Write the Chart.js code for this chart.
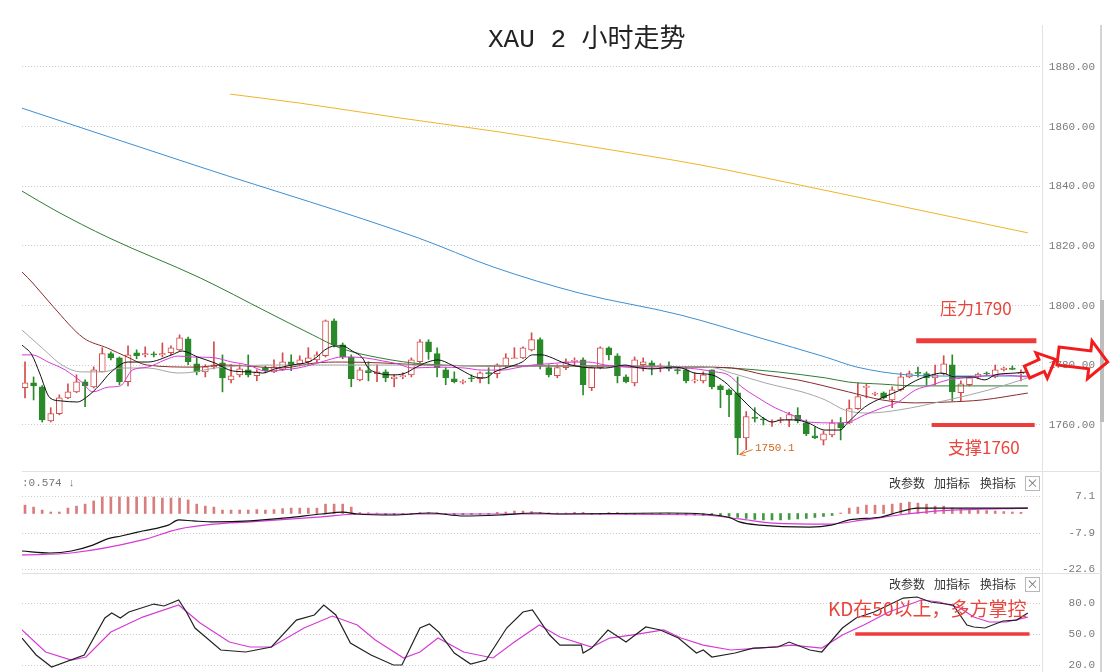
<!DOCTYPE html>
<html>
<head>
<meta charset="utf-8">
<title>XAU 2 小时走势</title>
<script src="https://cdn.jsdelivr.net/npm/chart.js@4.4.0/dist/chart.umd.min.js"></script>
<style>
  body { margin: 0; background: #fff; }
  #wrap { position: relative; width: 1120px; height: 672px; overflow: hidden; background: #fff; font-family: "Noto Sans CJK SC", sans-serif; }
  canvas { position: absolute; left: 0; z-index: 1; }
  .sep { position: absolute; background: #e2e2e2; z-index: 0; }
  .txt { position: absolute; white-space: nowrap; z-index: 2; }
  .hd { font-size: 12px; line-height: 16px; color: #333; }
  .xb { width: 13px; height: 13px; border: 1px solid #b8b8b8; font-size: 12px; line-height: 12px; text-align: center; color: #777; }
  .red { color: #e8453c; }
</style>
</head>
<body>
<div id="wrap">
  <div class="sep" style="left:1042px;top:25px;width:1px;height:647px"></div>
  <div class="sep" style="left:1100px;top:25px;width:2px;height:647px;background:#d4d4d4"></div>
  <div class="sep" style="left:1100px;top:300px;width:4px;height:122px;background:#bdbdbd"></div>
  <div class="sep" style="left:22px;top:471px;width:1080px;height:1px"></div>
  <div class="sep" style="left:22px;top:573px;width:1080px;height:1px"></div>

  <canvas id="main" width="1120" height="471" style="top:0"></canvas>
  <canvas id="macd" width="1120" height="102" style="top:471px"></canvas>
  <canvas id="kd" width="1120" height="99" style="top:573px"></canvas>

  <div class="txt" style="left:488px;top:25px;font-size:26px;line-height:30px;color:#222;font-family:'Liberation Mono','Noto Sans CJK SC',monospace">XAU 2 小时走势</div>
  <div class="txt red" style="left:940px;top:298px;font-size:17px;line-height:20px">压力1790</div>
  <div class="txt red" style="left:948px;top:437px;font-size:17px;line-height:20px">支撑1760</div>
  <div class="txt" style="left:755px;top:441px;font-size:11px;line-height:14px;color:#d2691e;font-family:'Liberation Mono',monospace">1750.1</div>
  <div class="txt red" style="left:828px;top:597px;font-size:19px;line-height:22px">KD在50以上，多方掌控</div>

  <div class="txt" style="left:22px;top:476px;font-size:11px;line-height:14px;color:#777;font-family:'Liberation Mono',monospace">:0.574 ↓</div>
  <div class="txt hd" style="left:889px;top:475px">改参数</div>
  <div class="txt hd" style="left:934px;top:475px">加指标</div>
  <div class="txt hd" style="left:980px;top:475px">换指标</div>
  <div class="txt xb" style="left:1025px;top:476px">×</div>
  <div class="txt hd" style="left:889px;top:576px">改参数</div>
  <div class="txt hd" style="left:934px;top:576px">加指标</div>
  <div class="txt hd" style="left:980px;top:576px">换指标</div>
  <div class="txt xb" style="left:1025px;top:577px">×</div>
</div>
<script>
// ---- candles (2h bars, left to right) ----
const openP = [
  1772.5, 1774.1, 1772.8, 1761.4, 1763.8, 1769.1, 1771.1, 1774.5, 1772.8, 1777.8,
  1783.9, 1782.5, 1774.5, 1784.2, 1783.5, 1783.8, 1783.5, 1784.2, 1785.2, 1788.9,
  1780.5, 1777.8, 1779.5, 1780.8, 1775.1, 1776.8, 1778.5, 1776.5, 1779.2, 1777.8,
  1778.5, 1781.2, 1780.5, 1781.2, 1781.8, 1783.2, 1794.9, 1786.9, 1782.8, 1775.1,
  1778.2, 1777.2, 1777.8, 1775.5, 1776.2, 1776.8, 1781.2, 1787.9, 1783.9, 1778.5,
  1775.5, 1774.3, 1775.8, 1775.5, 1777.5, 1777.2, 1779.8, 1782.2, 1782.5, 1785.2,
  1788.6, 1779.2, 1776.5, 1779.2, 1781.3, 1781.8, 1772.5, 1779.2, 1785.9, 1783.2,
  1776.1, 1774.1, 1780.2, 1780.8, 1779.6, 1779.8, 1778.5, 1778.5, 1774.8, 1774.8,
  1778.5, 1773.1, 1771.8, 1770.8, 1755.7, 1762.5, 1762.0, 1761.0, 1761.5, 1761.7,
  1763.2, 1760.7, 1756.4, 1754.9, 1756.7, 1760.7, 1760.7, 1765.5, 1772.6, 1770.3,
  1770.8, 1768.4, 1771.8, 1776.1, 1777.6, 1777.2, 1775.8, 1777.2, 1780.2, 1770.8,
  1773.5, 1776.1, 1777.4, 1776.1, 1778.5, 1779.1, 1777.2
];
const highP = [
  1781.2, 1776.1, 1773.2, 1765.8, 1770.1, 1773.8, 1776.8, 1775.1, 1779.5, 1785.9,
  1784.5, 1782.8, 1786.5, 1785.2, 1786.2, 1784.5, 1787.5, 1786.5, 1790.2, 1789.5,
  1782.8, 1780.2, 1787.9, 1783.5, 1780.2, 1780.2, 1783.5, 1778.5, 1779.8, 1781.8,
  1784.2, 1783.5, 1783.2, 1785.9, 1784.5, 1795.2, 1795.6, 1787.5, 1783.5, 1779.2,
  1781.2, 1780.2, 1778.5, 1776.8, 1777.5, 1782.5, 1788.6, 1788.6, 1785.9, 1779.2,
  1777.8, 1775.1, 1776.8, 1777.8, 1779.2, 1780.5, 1783.9, 1785.9, 1786.2, 1790.9,
  1789.2, 1780.2, 1780.2, 1782.2, 1782.5, 1782.5, 1779.5, 1786.2, 1786.2, 1783.9,
  1776.8, 1782.8, 1782.5, 1781.5, 1780.5, 1781.2, 1779.2, 1779.5, 1777.5, 1777.8,
  1778.5, 1773.5, 1772.1, 1776.1, 1764.5, 1765.8, 1762.5, 1761.7, 1762.5, 1764.2,
  1765.8, 1761.7, 1759.4, 1758.0, 1761.7, 1762.5, 1768.4, 1774.1, 1773.6, 1771.0,
  1771.1, 1772.8, 1777.5, 1778.1, 1779.4, 1777.8, 1780.1, 1783.2, 1783.5, 1774.8,
  1776.1, 1777.4, 1777.8, 1780.1, 1779.4, 1779.8, 1778.5
];
const lowP = [
  1769.1, 1768.4, 1761.0, 1761.0, 1763.4, 1768.8, 1770.8, 1766.1, 1772.4, 1777.8,
  1781.8, 1773.5, 1773.1, 1782.2, 1782.8, 1782.8, 1782.8, 1783.5, 1784.8, 1780.2,
  1776.8, 1776.1, 1778.8, 1771.1, 1774.1, 1776.1, 1776.1, 1774.8, 1777.5, 1777.5,
  1778.2, 1778.2, 1779.8, 1780.2, 1781.2, 1782.8, 1786.2, 1782.2, 1772.8, 1774.8,
  1774.8, 1774.5, 1774.5, 1772.8, 1775.5, 1776.1, 1780.8, 1782.0, 1776.1, 1773.5,
  1774.1, 1773.8, 1774.5, 1774.1, 1773.8, 1775.8, 1779.2, 1782.2, 1782.2, 1784.8,
  1778.8, 1776.1, 1775.8, 1778.5, 1780.2, 1770.1, 1771.5, 1778.8, 1781.8, 1774.1,
  1774.1, 1773.1, 1778.1, 1776.8, 1777.8, 1778.1, 1777.1, 1774.1, 1774.1, 1774.1,
  1772.1, 1765.8, 1762.8, 1750.1, 1751.7, 1761.0, 1760.0, 1759.5, 1760.7, 1759.4,
  1760.7, 1756.4, 1755.4, 1753.3, 1756.0, 1755.0, 1760.4, 1765.2, 1769.1, 1769.8,
  1768.8, 1765.8, 1771.4, 1775.8, 1776.1, 1773.4, 1773.4, 1776.8, 1768.1, 1768.1,
  1773.1, 1775.4, 1776.8, 1775.8, 1778.1, 1778.5, 1774.8
];
const closeP = [
  1774.1, 1773.1, 1761.7, 1763.8, 1769.1, 1771.1, 1774.5, 1773.1, 1778.5, 1783.9,
  1782.5, 1774.5, 1783.5, 1783.2, 1783.9, 1783.5, 1783.9, 1785.9, 1789.2, 1781.2,
  1777.8, 1779.5, 1780.2, 1775.8, 1776.5, 1778.8, 1776.8, 1777.8, 1778.2, 1779.5,
  1781.2, 1780.2, 1781.8, 1782.5, 1783.5, 1794.9, 1786.9, 1782.8, 1775.5, 1778.5,
  1777.5, 1777.8, 1775.8, 1776.1, 1776.6, 1781.8, 1787.9, 1784.5, 1779.2, 1775.8,
  1774.5, 1774.6, 1775.5, 1777.5, 1777.2, 1780.2, 1782.5, 1782.5, 1785.9, 1788.6,
  1780.2, 1776.8, 1779.2, 1781.2, 1781.6, 1773.5, 1779.2, 1785.9, 1783.5, 1776.5,
  1774.5, 1781.8, 1781.2, 1779.8, 1779.8, 1778.8, 1778.2, 1774.8, 1775.1, 1776.8,
  1772.8, 1771.8, 1770.1, 1755.7, 1762.8, 1762.2, 1761.7, 1761.2, 1761.7, 1763.5,
  1761.4, 1757.0, 1755.7, 1757.0, 1760.7, 1759.0, 1765.5, 1769.5, 1773.0, 1770.6,
  1769.1, 1771.8, 1776.1, 1777.2, 1777.3, 1775.8, 1776.8, 1780.5, 1771.1, 1773.8,
  1775.8, 1777.1, 1777.1, 1778.5, 1779.1, 1778.6, 1777.6
];

// ---- moving averages at bar positions ----
const ma5X = [-0.35, 0.8, 1.7, 2.9, 4.1, 6.1, 7.2, 8.7, 9.9, 12.0, 14.3, 17.1, 18.3, 20.1, 22.1, 24.2, 26.2, 27.7, 29.1, 31.1,
  33.0, 34.0, 34.9, 36.1, 37.0, 38.1, 39.3, 39.9, 41.1, 43.1, 44.3, 45.4, 46.9, 48.1, 49.7, 51.2, 52.4, 53.6, 54.7, 56.3,
  57.9, 59.1, 60.2, 61.4, 62.5, 64.9, 67.6, 69.9, 71.0, 73.0, 75.4, 76.5, 78.0, 80.0, 81.5, 82.7, 84.2, 85.8, 87.0, 88.2,
  89.7, 91.2, 93.2, 94.9, 95.9, 97.8, 99.8, 101.7, 103.7, 105.6, 106.8, 108.3, 110.3, 111.8, 113.0, 115.3, 116.8];
const ma5Y = [1786.8, 1783.5, 1777.4, 1769.1, 1768.1, 1767.7, 1769.4, 1773.4, 1777.4, 1781.1, 1781.1, 1783.5, 1784.8, 1782.8, 1780.8, 1778.1, 1777.8, 1777.4, 1778.8, 1780.1,
  1781.1, 1782.8, 1785.1, 1786.5, 1786.5, 1784.8, 1782.5, 1779.4, 1777.4, 1776.8, 1777.4, 1779.1, 1781.1, 1781.8, 1780.1, 1777.8, 1776.1, 1775.8, 1777.8, 1779.4,
  1781.1, 1783.5, 1783.5, 1782.5, 1781.1, 1779.4, 1779.1, 1780.1, 1779.4, 1778.8, 1779.4, 1779.1, 1777.4, 1776.8, 1774.4, 1771.1, 1766.7, 1762.7, 1761.0, 1761.7,
  1761.7, 1760.7, 1758.3, 1758.3, 1761.0, 1766.0, 1769.1, 1771.4, 1774.8, 1776.8, 1777.4, 1776.1, 1776.1, 1775.1, 1776.8, 1777.4, 1777.8];

const ma10X = [-0.35, 0.8, 2.7, 4.7, 6.6, 7.9, 9.7, 11.1, 12.5, 14.3, 16.3, 17.8, 19.5, 22.1, 24.1, 26.0, 28.0, 29.9, 31.8, 33.8,
  35.3, 36.9, 39.6, 41.6, 43.4, 45.1, 48.1, 51.2, 53.2, 55.6, 57.1, 59.1, 60.9, 64.1, 65.6, 67.6, 69.9, 72.6, 76.5, 80.4,
  81.9, 83.5, 85.4, 87.4, 89.3, 91.2, 94.3, 95.9, 97.8, 99.8, 101.7, 103.7, 105.6, 107.5, 109.5, 111.5, 113.3, 116.8];
const ma10Y = [1783.5, 1783.5, 1781.1, 1778.4, 1774.4, 1771.1, 1772.7, 1773.1, 1778.4, 1779.4, 1781.8, 1783.1, 1782.8, 1782.5, 1781.1, 1780.1, 1778.1, 1778.4, 1779.1, 1780.5,
  1781.8, 1782.8, 1782.5, 1781.5, 1780.5, 1779.1, 1779.4, 1779.1, 1778.4, 1778.4, 1779.1, 1780.1, 1780.5, 1781.1, 1781.1, 1780.1, 1779.4, 1779.1, 1779.1, 1777.8,
  1776.8, 1772.7, 1769.1, 1765.7, 1763.4, 1761.0, 1760.7, 1761.0, 1763.4, 1765.7, 1767.7, 1771.7, 1773.4, 1775.1, 1775.8, 1776.4, 1776.8, 1776.1];

const ma20X = [-0.35, 2.0, 4.3, 6.6, 9.0, 11.3, 14.3, 17.8, 19.8, 22.1, 29.9, 37.6, 46.6, 55.3, 67.0, 78.6, 80.4, 82.3, 84.2, 86.2,
  88.2, 90.5, 93.2, 95.5, 98.2, 101.7, 107.5, 112.2, 116.8];
const ma20Y = [1791.8, 1785.8, 1780.1, 1777.8, 1777.8, 1779.1, 1779.1, 1777.4, 1777.8, 1779.1, 1780.1, 1780.1, 1780.1, 1779.8, 1779.8, 1779.4, 1779.1, 1777.4, 1775.8, 1774.1,
  1772.7, 1771.1, 1768.4, 1765.0, 1764.0, 1765.0, 1768.4, 1771.7, 1775.8];

const ma30X = [-0.35, 0.9, 3.3, 6.8, 9.6, 11.9, 14.2, 19.8, 23.3, 29.9, 33.8, 36.9, 41.6, 46.6, 55.3, 67.0, 78.6, 82.3, 86.2, 90.0,
  95.9, 99.8, 103.7, 107.5, 111.5, 116.8];
const ma30Y = [1811.3, 1807.6, 1799.6, 1789.2, 1785.8, 1782.8, 1780.1, 1779.4, 1780.1, 1779.1, 1780.8, 1781.1, 1780.8, 1780.1, 1779.8, 1779.8, 1779.4, 1779.1, 1776.8, 1775.1,
  1771.1, 1768.4, 1767.4, 1767.7, 1768.4, 1770.7];

const ma60X = [-0.35, 3.4, 9.8, 20.4, 28.2, 33.5, 36.7, 41.3, 46.6, 55.3, 67.0, 78.6, 82.3, 93.2, 95.9, 99.8, 103.7, 116.8];
const ma60Y = [1838.4, 1832.1, 1822.7, 1809.3, 1797.9, 1790.2, 1785.8, 1782.5, 1780.4, 1779.8, 1779.8, 1779.4, 1779.1, 1775.8, 1774.4, 1773.7, 1773.1, 1773.1];

const ma120X = [-0.35, 20.4, 45.8, 54.5, 64.6, 76.3, 85.6, 93.2, 96.9, 102.7, 107.5, 116.8];
const ma120Y = [1866.2, 1846.5, 1822.7, 1813.0, 1804.2, 1796.9, 1789.2, 1782.8, 1779.4, 1776.8, 1776.4, 1776.4];

const ma250X = [23.9, 32.0, 43.7, 55.3, 67.0, 78.6, 90.3, 101.9, 116.8];
const ma250Y = [1870.9, 1867.9, 1862.9, 1858.2, 1852.8, 1847.2, 1840.4, 1833.4, 1824.4];

// ---- MACD ----
const macdHist = [
  3.4, 2.6, 1.4, 0.6, 0.6, 2.2, 3.0, 3.8, 5.1, 6.7, 6.7, 6.7, 6.7, 6.7, 6.7, 6.7, 6.3, 6.3, 6.3, 5.5,
  3.8, 3.0, 2.6, 1.4, 1.4, 1.4, 1.4, 1.6, 1.4, 1.6, 2.0, 2.2, 2.2, 2.2, 2.2, 3.8, 3.8, 3.8, 2.6,
  0.4, 0.3, 0.2, -0.5, -0.5, -0.4, -0.3, 0.4, 0.4, 0.3, -0.4, -0.5, -0.5, -0.4, -0.3, -0.3, 0.5, 0.6, 1.0, 1.0,
  0.8, 0.5, 0.3, 0.2, 0.2, 0.5, 0.5, -0.4, -0.4, 0.4, 0.4, -0.4, -0.4, 0.1, 0.1, -0.1, -0.2, -0.5, -0.6, -0.6, -0.8,
  -0.6, -0.8, -1.2, -1.6, -2.0, -2.4, -2.6, -2.6, -2.6, -2.4, -2.2, -2.0, -1.6, -1.2, -0.8, 0.2,
  2.2, 2.6, 3.4, 3.4, 3.4, 3.8, 4.2, 4.6, 4.2, 3.8, 3.0, 3.0, 2.2, 2.0, 1.6, 1.4, 1.2, 1.0, 0.8, 0.6, 0.5
];
const difX = [-0.35, 2.9, 5.4, 7.9, 9.6, 11.2, 13.7, 16.7, 17.9, 19.6, 22.0, 26.2, 30.4, 34.5, 37.0, 38.7, 42.9, 47.1, 51.1, 55.3,
  59.5, 62.3, 74.8, 79.0, 82.2, 83.2, 85.6, 91.4, 93.9, 96.0, 99.7, 101.8, 103.9, 108.1, 112.3, 116.8];
const difY = [-15.2, -16.0, -15.2, -12.8, -10.3, -9.1, -7.1, -4.7, -2.6, -3.0, -3.4, -3.0, -1.8, -0.2, 0.6, -0.2, -0.6, 0.2, -1.0, -0.6,
  0.2, -0.2, 0.2, -0.2, -1.8, -3.4, -4.7, -5.5, -4.7, -2.6, -1.4, 0.6, 2.2, 2.2, 2.2, 2.2];
const deaX = [-0.35, 5.4, 13.7, 17.9, 22.0, 26.2, 34.5, 38.7, 62.3, 79.0, 83.2, 87.2, 93.5, 97.7, 101.8, 106.0, 108.1, 116.8];
const deaY = [-16.8, -16.0, -10.7, -6.3, -4.3, -3.4, -1.4, -0.2, -0.2, -0.6, -2.2, -3.9, -4.3, -2.6, -0.6, 1.0, 1.4, 2.2];

// ---- KD ----
const kX = [-0.35, 1.3, 3.1, 6.9, 9.3, 10.1, 11.1, 12.1, 15.0, 16.2, 17.9, 18.8, 19.8, 22.8, 25.7, 28.7, 31.6, 33.7, 34.8, 36.2,
  37.9, 40.3, 42.9, 43.9, 46.0, 47.1, 48.2, 50.0, 51.9, 53.7, 56.1, 58.0, 59.1, 61.1, 62.3, 64.8, 65.0, 66.0, 67.9, 70.0,
  72.3, 74.0, 76.1, 78.2, 79.0, 80.0, 82.7, 84.8, 87.7, 89.0, 91.4, 92.8, 95.2, 96.8, 98.9, 102.3, 103.9, 105.5, 108.1, 109.7,
  110.5, 111.8, 113.9, 115.5, 116.8];
const kY = [46.1, 29.7, 18.0, 29.7, 65.5, 70.3, 65.5, 71.3, 79.0, 77.1, 82.9, 71.3, 55.8, 34.5, 32.6, 37.4, 63.5, 68.4, 78.1, 68.4,
  41.3, 29.7, 20.0, 20.0, 55.8, 59.7, 51.9, 31.6, 20.9, 24.8, 55.8, 71.3, 73.2, 49.0, 39.3, 39.3, 31.6, 36.4, 53.9, 42.2,
  56.8, 53.9, 46.1, 31.6, 34.5, 27.7, 31.6, 36.4, 37.4, 42.2, 34.5, 32.6, 55.8, 65.5, 71.3, 84.8, 85.8, 81.0, 78.1, 58.7,
  56.8, 55.8, 62.6, 63.5, 70.3];
const dX = [-0.35, 2.4, 5.4, 7.1, 10.0, 13.7, 17.9, 20.4, 23.8, 26.2, 28.7, 32.5, 35.8, 38.7, 40.8, 44.1, 46.0, 48.1, 51.1, 54.5,
  57.0, 59.9, 62.3, 66.0, 68.1, 70.6, 74.4, 76.4, 79.0, 82.2, 85.6, 89.3, 92.8, 95.2, 97.7, 100.6, 104.4, 106.5, 108.9, 110.5,
  112.3, 114.3, 116.8];
const dY = [53.9, 32.6, 24.8, 27.7, 51.9, 66.4, 78.1, 60.6, 42.2, 37.4, 37.4, 55.8, 67.4, 58.7, 44.2, 26.8, 32.6, 46.1, 32.6, 26.8,
  42.2, 58.7, 47.1, 37.4, 46.1, 49.0, 53.9, 46.1, 39.3, 34.5, 36.4, 39.3, 36.4, 49.0, 58.7, 71.3, 82.9, 81.0, 75.2, 66.4,
  61.6, 61.6, 66.4];

// ---- axis ticks and marked levels ----
const priceTicks = [1880, 1860, 1840, 1820, 1800, 1780, 1760];
const macdTicks = [7.1, -7.9, -22.6];
const kdTicks = [80, 50, 20];
const resistLevel = 1788.2, resistFrom = 103.8, resistTo = 117.8;
const supportLevel = 1760.0, supportFrom = 105.6, supportTo = 117.6;
const kdLevel = 50, kdFrom = 96.7, kdTo = 117.0;
const lowMarkIndex = 83, lowMarkValue = 1750.1;

const RED = '#d64b4b', GREEN = '#2a8a2a', MARK = '#ee3b3b';
const X_MIN = -0.35, X_MAX = 118.45;

function pts(xs, ys) { return xs.map((x, i) => ({ x, y: ys[i] })); }
function lineSet(data, color, width) {
  return { type: 'line', data, borderColor: color, borderWidth: width || 1, pointRadius: 0,
           cubicInterpolationMode: 'monotone', order: 0 };
}
function levelSet(from, to, v, width) {
  return { type: 'line', data: [{ x: from, y: v }, { x: to, y: v }], borderColor: MARK,
           borderWidth: width, pointRadius: 0, order: -1 };
}
function yAxis(min, max, ticks, digits, pad) {
  return {
    position: 'right', min, max,
    afterBuildTicks: s => { s.ticks = ticks.map(v => ({ value: v })); },
    // fixed axis width, and no extra room for half-labels at the top and bottom
    afterFit: s => { s.width = 53; s.paddingTop = 0; s.paddingBottom = 0; },
    grid: { color: '#cdcdcd', drawTicks: false },
    border: { display: false, dash: [1, 2] },
    ticks: { crossAlign: 'far', padding: pad, color: '#7a7a7a',
             font: { family: 'Liberation Mono', size: 11 },
             callback: v => Number(v).toFixed(digits) }
  };
}
const xAxis = { type: 'linear', min: X_MIN, max: X_MAX, display: false, offset: false };
const base = { responsive: false, animation: false, devicePixelRatio: 1, events: [],
               plugins: { legend: { display: false }, tooltip: { enabled: false } } };

function blockArrow(ctx, x, y, ang, len, tailHalf, headHalf, headLen) {
  ctx.save();
  ctx.translate(x, y);
  ctx.rotate(ang);
  ctx.beginPath();
  ctx.moveTo(0, -tailHalf);
  ctx.lineTo(len - headLen, -tailHalf);
  ctx.lineTo(len - headLen, -headHalf);
  ctx.lineTo(len, 0);
  ctx.lineTo(len - headLen, headHalf);
  ctx.lineTo(len - headLen, tailHalf);
  ctx.lineTo(0, tailHalf);
  ctx.closePath();
  ctx.lineWidth = 3;
  ctx.strokeStyle = '#f31c1c';
  ctx.stroke();
  ctx.restore();
}

const mainExtras = {
  id: 'mainExtras',
  afterDraw(chart) {
    const { ctx, scales: { x, y } } = chart;
    const lx = x.getPixelForValue(lowMarkIndex), ly = y.getPixelForValue(lowMarkValue);
    ctx.save();
    ctx.strokeStyle = '#e07020';
    ctx.lineWidth = 1;
    ctx.beginPath();
    ctx.moveTo(lx + 15, ly - 5);
    ctx.lineTo(lx + 2, ly);
    ctx.moveTo(lx + 2, ly);
    ctx.lineTo(lx + 7, ly - 4);
    ctx.moveTo(lx + 2, ly);
    ctx.lineTo(lx + 8, ly + 1);
    ctx.stroke();
    ctx.restore();
    blockArrow(ctx, 1027, 372, -0.42, 31, 6.5, 14, 15);
    blockArrow(ctx, 1058, 356, 0.12, 50, 9, 19, 18);
  }
};

// ---- main candlestick panel ----
const isUp = i => closeP[i] >= openP[i];
new Chart(document.getElementById('main'), {
  type: 'bar',
  data: {
    datasets: [
      levelSet(resistFrom, resistTo, resistLevel, 5),
      levelSet(supportFrom, supportTo, supportLevel, 4),
      lineSet(pts(ma5X, ma5Y), '#111111'),
      lineSet(pts(ma10X, ma10Y), '#d63ad6'),
      lineSet(pts(ma20X, ma20Y), '#a6a6a6'),
      lineSet(pts(ma30X, ma30Y), '#8b2a2a'),
      lineSet(pts(ma60X, ma60Y), '#2e7d32'),
      lineSet(pts(ma120X, ma120Y), '#3d8fd1'),
      lineSet(pts(ma250X, ma250Y), '#f0b429'),
      {
        type: 'bar', order: 1, grouped: false, barThickness: 6, minBarLength: 1, borderSkipped: false,
        data: openP.map((o, i) => ({ x: i, y: [o, closeP[i]] })),
        backgroundColor: openP.map((o, i) => isUp(i) ? '#ffffff' : GREEN),
        borderColor: openP.map((o, i) => isUp(i) ? RED : GREEN),
        borderWidth: 1
      },
      {
        type: 'bar', order: 2, grouped: false, barThickness: 1, borderSkipped: false,
        data: lowP.map((l, i) => ({ x: i, y: [l, highP[i]] })),
        backgroundColor: openP.map((o, i) => isUp(i) ? RED : GREEN)
      }
    ]
  },
  options: Object.assign({}, base, {
    layout: { padding: { left: 22, right: 25, top: 20, bottom: 1 } },
    scales: { x: xAxis, y: yAxis(1744.91, 1895.75, priceTicks, 2, 7) }
  }),
  plugins: [mainExtras]
});

// ---- MACD panel ----
new Chart(document.getElementById('macd'), {
  type: 'bar',
  data: {
    datasets: [
      lineSet(pts(difX, difY), '#111111', 1.2),
      lineSet(pts(deaX, deaY), '#d63ad6', 1.2),
      {
        type: 'bar', order: 1, grouped: false, barThickness: 2,
        data: macdHist.map((v, i) => ({ x: i, y: v })),
        backgroundColor: macdHist.map(v => v >= 0 ? '#d97c7c' : '#3f9a3f')
      }
    ]
  },
  options: Object.assign({}, base, {
    layout: { padding: { left: 22, right: 25, top: 1, bottom: 1 } },
    scales: { x: xAxis, y: yAxis(-23.71, 16.83, macdTicks, 1, 20) }
  })
});

// ---- KD panel ----
new Chart(document.getElementById('kd'), {
  type: 'line',
  data: {
    datasets: [
      levelSet(kdFrom, kdTo, kdLevel, 3.5),
      Object.assign(lineSet(pts(kX, kY), '#222222', 1.2), { cubicInterpolationMode: 'default', tension: 0 }),
      Object.assign(lineSet(pts(dX, dY), '#d63ad6', 1.2), { cubicInterpolationMode: 'default', tension: 0 })
    ]
  },
  options: Object.assign({}, base, {
    layout: { padding: { left: 22, right: 25, top: 1, bottom: 0 } },
    scales: { x: xAxis, y: yAxis(13.23, 108.07, kdTicks, 1, 27) }
  })
});
</script>
</body>
</html>
